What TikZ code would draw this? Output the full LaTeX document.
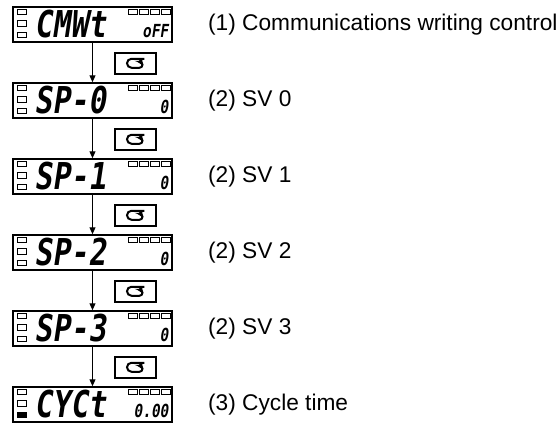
\documentclass[tikz,border=0pt]{standalone}
\usepackage{fontspec}
\setmainfont{Liberation Sans}
\newfontfamily\segfont[FakeSlant=0.15,FakeStretch=0.8]{DejaVu Sans Mono Bold}
\usetikzlibrary{arrows.meta,positioning}
\tikzstyle{lcd}=[draw,line width=0.75pt,minimum width=79.5pt,minimum height=17.5pt,inner sep=0pt]
\tikzstyle{lamp}=[draw,line width=0.5pt]
\tikzstyle{bigseg}=[inner sep=0pt,font=\segfont\fontsize{18.5}{18.5}\selectfont]
\tikzstyle{smallseg}=[inner sep=0pt,font=\segfont\fontsize{9}{9}\selectfont]
\tikzstyle{keybox}=[draw,line width=0.75pt,minimum width=20.5pt,minimum height=10.5pt,inner sep=0pt]
\tikzstyle{note}=[inner sep=0pt,font=\fontsize{11.35}{13.6}\selectfont]
\tikzstyle{flow}=[line width=0.5pt,-{Triangle[length=3.5pt,width=3pt]}]

\begin{document}
\begin{tikzpicture}[x=0.5pt,y=-0.5pt]
\useasboundingbox (0,0) rectangle (559,425);
\foreach \i/\mtext/\stext/\label in {0/CMWt/oFF/(1) Communications writing control,
  1/SP-0/0/(2) SV 0, 2/SP-1/0/(2) SV 1, 3/SP-2/0/(2) SV 2, 4/SP-3/0/(2) SV 3,
  5/CYCt/0.00/(3) Cycle time} {
  \node[lcd] (d\i) at (92.5,24.5+76*\i) {};
  % lamps left and top right
  \foreach \k in {0,1,2}
    \draw[lamp] ([shift={(5,3+11.5*\k)}]d\i.north west) rectangle +(9,5.5);
  \foreach \k in {0,...,3}
    \draw[lamp] ([shift={(-44+11*\k,3)}]d\i.north east) rectangle +(9,5.5);
  \node[bigseg,anchor=base west] (v\i) at ([shift={(22,31)}]d\i.north west) {\mtext};
  \node[smallseg,anchor=base east] (s\i) at ([shift={(-4,31)}]d\i.north east) {\stext};
  \node[note,right=17.5pt of d\i] (n\i) {\label};
}
\fill ([shift={(5,26)}]d5.north west) rectangle +(9,5.5);

\foreach \i [evaluate=\i as \j using int(\i+1)] in {0,...,4} {
  \draw[flow] (d\i.south) -- (d\j.north);
  \node[keybox] (k\i) at ([shift={(43,20.5)}]d\i.south) {};
  % loop key symbol
  \draw[line width=1pt,-{Triangle[length=2.5pt,width=3.5pt]}]
    ([shift={(9,-4.5)}]k\i.center) -- ++(-13,0) arc (270:90:4.5) -- ++(8,0)
    arc (90:-90:3) -- ++(-2,0);
}
\end{tikzpicture}
\end{document}
